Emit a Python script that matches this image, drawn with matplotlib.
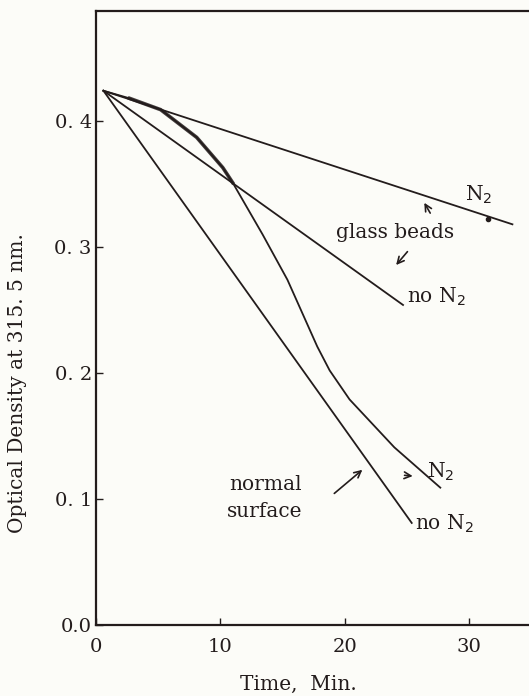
import matplotlib
matplotlib.use("Agg")
import matplotlib.pyplot as plt
import numpy as np

# ---- data ----
glass_n2_t = [0.6, 33.5]
glass_n2_od = [0.424, 0.318]

glass_non2_t = [0.6, 24.7]
glass_non2_od = [0.424, 0.254]

normal_n2_t = [0.6, 2.7, 5.2, 8.1, 10.2, 11.0, 13.4, 15.4, 17.8, 18.8, 20.4, 24.0, 27.7]
normal_n2_od = [0.424, 0.418, 0.409, 0.387, 0.363, 0.351, 0.310, 0.274, 0.221, 0.202, 0.179, 0.141, 0.109]

normal_non2_t = [0.6, 25.4]
normal_non2_od = [0.424, 0.081]

xticks = [0, 10, 20, 30]
yticks = [0.0, 0.1, 0.2, 0.3, 0.4]
yticklabels = ["0.0", "0. 1", "0. 2", "0. 3", "0. 4"]

ink = "#231c1c"
bg = "#fcfcf8"
font = "DejaVu Serif"

plt.rcParams["font.family"] = [font]

fig = plt.figure(figsize=(5.29, 6.96), dpi=100, facecolor=bg)
ax = fig.add_axes([96/529, 1-625/696, 1-96/529, (625-11)/696])
ax.set_facecolor(bg)
ax.set_xlim(0, (529-96)/12.43)
ax.set_ylim(0, (625-11)/1260)

lw = 1.3
ax.plot(glass_n2_t, glass_n2_od, color=ink, lw=lw)
ax.plot([31.5], [0.3226], marker="o", ms=3, color=ink)
ax.plot(glass_non2_t, glass_non2_od, color=ink, lw=lw)
ax.plot(normal_n2_t, normal_n2_od, color=ink, lw=lw)
ax.plot(normal_n2_t[1:6], normal_n2_od[1:6], color=ink, lw=2.6, alpha=0.85)
ax.plot(normal_non2_t, normal_non2_od, color=ink, lw=lw)

for s in ["left", "bottom", "top"]:
    ax.spines[s].set_color(ink)
    ax.spines[s].set_linewidth(1.6)
ax.spines["right"].set_visible(False)

ax.set_xticks(xticks)
ax.set_xticklabels([str(v) for v in xticks])
ax.set_yticks(yticks)
ax.set_yticklabels(yticklabels)
ax.tick_params(direction="in", length=5, width=1, color=ink, labelcolor=ink,
               labelsize=14)
ax.tick_params(axis="x", pad=9)
ax.tick_params(axis="y", pad=3)

fs = 14.5
tk = dict(color=ink, fontsize=fs, family=font)
ax.text(29.7, 0.337, r"N$_2$", ha="left", va="baseline", **tk)
ax.text(24.05, 0.307, "glass beads", ha="center", va="baseline", **tk)
ax.text(25.0, 0.2555, r"no N$_2$", ha="left", va="baseline", **tk)
ax.text(26.6, 0.1167, r"N$_2$", ha="left", va="baseline", **tk)
ax.text(25.7, 0.0754, r"no N$_2$", ha="left", va="baseline", **tk)
ax.text(13.6, 0.107, "normal", ha="center", va="baseline", **tk)
ax.text(13.6, 0.0857, "surface", ha="center", va="baseline", **tk)

ap = dict(arrowstyle="->", color=ink, lw=1.2, mutation_scale=12)
ax.annotate("", xy=(26.3, 0.337), xytext=(27.0, 0.325), arrowprops=ap)
ax.annotate("", xy=(24.0, 0.284), xytext=(25.2, 0.298), arrowprops=ap)
ax.annotate("", xy=(25.7, 0.118), xytext=(24.6, 0.119), arrowprops=ap)
ax.annotate("", xy=(21.6, 0.1246), xytext=(19.0, 0.103), arrowprops=ap)

fig.text(18/529, 1-383/696, "Optical Density at 315. 5 nm.", rotation=90,
         ha="center", va="center", **tk)
fig.text(298/529, 1-684/696, "Time,  Min.", ha="center", va="center", **tk)

fig.savefig("out.png", dpi=100, facecolor=bg)
